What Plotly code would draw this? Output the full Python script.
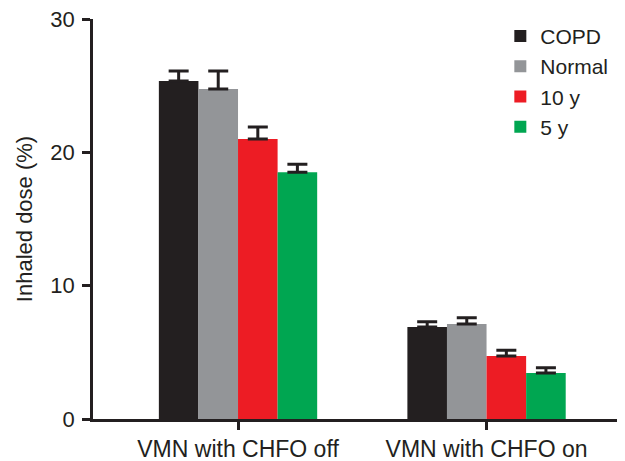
import plotly.graph_objects as go

categories = ["VMN with CHFO off", "VMN with CHFO on"]
series_names = ["COPD", "Normal", "10 y", "5 y"]
copd = [25.35, 6.9]
normal = [24.75, 7.13]
ten_y = [21.0, 4.73]
five_y = [18.5, 3.45]
copd_err = [0.75, 0.4]
normal_err = [1.35, 0.47]
ten_y_err = [0.9, 0.43]
five_y_err = [0.6, 0.4]

values = [copd, normal, ten_y, five_y]
errors = [copd_err, normal_err, ten_y_err, five_y_err]
colors = ["#231f20", "#939598", "#ed1c24", "#00a651"]
ink = "#231f20"

fig = go.Figure()
for name, vals, errs, col in zip(series_names, values, errors, colors):
    fig.add_trace(go.Bar(
        x=categories, y=vals, name=name,
        marker=dict(color=col, line=dict(width=0)),
        error_y=dict(type="data", array=errs, arrayminus=[0] * len(errs),
                     symmetric=False, color=ink, thickness=3, width=10),
    ))

# page body has an 8px margin, so the figure is sized to fill the window
fig.update_layout(
    width=617, height=453,
    margin=dict(l=85, r=3, t=11, b=42),
    paper_bgcolor="white", plot_bgcolor="white",
    barmode="group", bargap=0.363, bargroupgap=0,
    font=dict(family="Liberation Sans, Arial, sans-serif", size=22, color=ink),
    showlegend=True,
    legend=dict(x=0.77, y=1.008, xanchor="left", yanchor="top",
                font=dict(size=21, color=ink), bgcolor="rgba(0,0,0,0)",
                tracegroupgap=0, itemwidth=30),
    xaxis=dict(range=[-0.5835, 1.545], showline=True, linecolor=ink, linewidth=2.5,
               ticks="outside", ticklen=8, tickwidth=2.5, tickcolor=ink,
               tickfont=dict(size=23, color=ink), showgrid=False, zeroline=False,
               automargin=False, ticklabeloverflow="allow"),
    yaxis=dict(range=[0, 30], tickvals=[0, 10, 20, 30], showline=True, linecolor=ink,
               linewidth=2.5, ticks="outside", ticklen=8, tickwidth=2.5, tickcolor=ink,
               tickfont=dict(size=22, color=ink), showgrid=False, zeroline=False,
               automargin=False, ticklabelstandoff=3, ticklabeloverflow="allow",
               title=dict(text="Inhaled dose (%)", font=dict(size=22, color=ink), standoff=12)),
)

fig.write_html("out.html")
